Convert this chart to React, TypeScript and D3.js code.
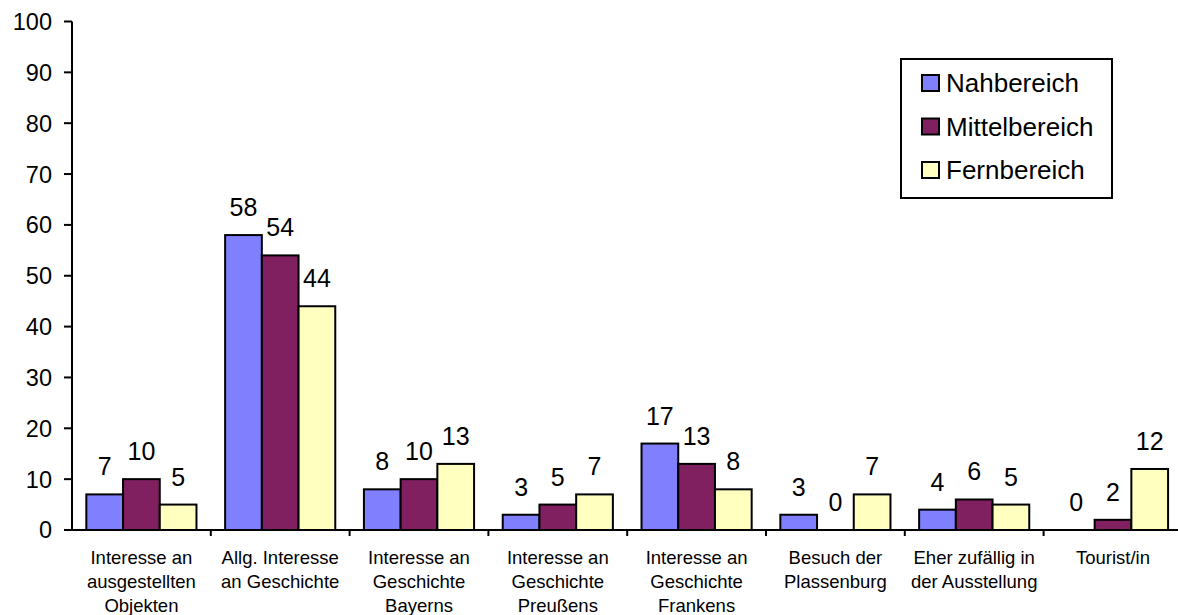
import React from "react";
import * as d3 from "d3";

const categories: string[][] = [
  ["Interesse an", "ausgestellten", "Objekten"],
  ["Allg. Interesse", "an Geschichte"],
  ["Interesse an", "Geschichte", "Bayerns"],
  ["Interesse an", "Geschichte", "Preußens"],
  ["Interesse an", "Geschichte", "Frankens"],
  ["Besuch der", "Plassenburg"],
  ["Eher zufällig in", "der Ausstellung"],
  ["Tourist/in"],
];

const seriesNames = ["Nahbereich", "Mittelbereich", "Fernbereich"];
const nahbereich = [7, 58, 8, 3, 17, 3, 4, 0];
const mittelbereich = [10, 54, 10, 5, 13, 0, 6, 2];
const fernbereich = [5, 44, 13, 7, 8, 7, 5, 12];
const seriesColors = ["#8080FF", "#802060", "#FFFFC0"];
const yTicks = [0, 10, 20, 30, 40, 50, 60, 70, 80, 90, 100];

const W = 1178;
const H = 615;
const FONT = "'Liberation Sans', Arial, Helvetica, sans-serif";

export default function App() {
  const series = [nahbereich, mittelbereich, fernbereich];
  const keys = categories.map((c) => c.join(" "));

  const x = d3.scaleBand<string>().domain(keys).range([72, 1182.4]).padding(0);
  const bw = x.bandwidth();
  const barW = bw * 0.2645;
  const groupOff = (bw - barW * 3) / 2;
  const inner = d3
    .scaleBand<number>()
    .domain([0, 1, 2])
    .range([groupOff, groupOff + barW * 3])
    .padding(0);
  const y = d3.scaleLinear().domain([0, 100]).range([530, 21.5]);

  const x0 = 72;
  const y0 = y(0);

  return (
    <svg
      width={W}
      height={H}
      style={{ position: "absolute", left: 0, top: 0, background: "#fff" }}
      fontFamily={FONT}
    >
      {/* y axis */}
      <line x1={x0} x2={x0} y1={y(100)} y2={y0} stroke="#000" strokeWidth={2} />
      {yTicks.map((t) => (
        <g key={t}>
          <line x1={x0 - 8} x2={x0} y1={y(t)} y2={y(t)} stroke="#000" strokeWidth={2} />
          <text
            x={52}
            y={y(t)}
            dy="0.36em"
            textAnchor="end"
            fontSize={23.5}
            fill="#000"
          >
            {t}
          </text>
        </g>
      ))}

      {/* bars */}
      {keys.map((k, ci) => (
        <g key={k}>
          {series.map((s, si) => {
            const v = s[ci];
            const bx = (x(k) as number) + (inner(si) as number);
            return (
              <g key={si}>
                {v > 0 && (
                  <rect
                    x={bx}
                    y={y(v)}
                    width={inner.bandwidth()}
                    height={y0 - y(v)}
                    fill={seriesColors[si]}
                    stroke="#000"
                    strokeWidth={2}
                  />
                )}
                <text
                  x={bx + inner.bandwidth() / 2}
                  y={y(v) - 19}
                  textAnchor="middle"
                  fontSize={25}
                  fill="#000"
                >
                  {v}
                </text>
              </g>
            );
          })}
        </g>
      ))}

      {/* x axis */}
      <line x1={x0} x2={1182.4} y1={y0} y2={y0} stroke="#000" strokeWidth={2} />
      {keys.map((k, i) => (
        <line
          key={"t" + i}
          x1={(x(k) as number) + bw}
          x2={(x(k) as number) + bw}
          y1={y0}
          y2={y0 + 6}
          stroke="#000"
          strokeWidth={2}
        />
      ))}
      {categories.map((lines, i) => (
        <text
          key={"c" + i}
          x={(x(keys[i]) as number) + bw / 2}
          textAnchor="middle"
          fontSize={18.5}
          fill="#000"
        >
          {lines.map((ln, li) => (
            <tspan key={li} x={(x(keys[i]) as number) + bw / 2} y={564 + li * 24}>
              {ln}
            </tspan>
          ))}
        </text>
      ))}

      {/* legend */}
      <rect x={901} y={59} width={211} height={139} fill="#fff" stroke="#000" strokeWidth={2} />
      {seriesNames.map((n, i) => (
        <g key={n}>
          <rect
            x={922}
            y={75 + i * 43.5}
            width={17}
            height={16}
            fill={seriesColors[i]}
            stroke="#000"
            strokeWidth={2}
          />
          <text x={946} y={83 + i * 43.5} dy="0.36em" fontSize={26} fill="#000">
            {n}
          </text>
        </g>
      ))}
    </svg>
  );
}
